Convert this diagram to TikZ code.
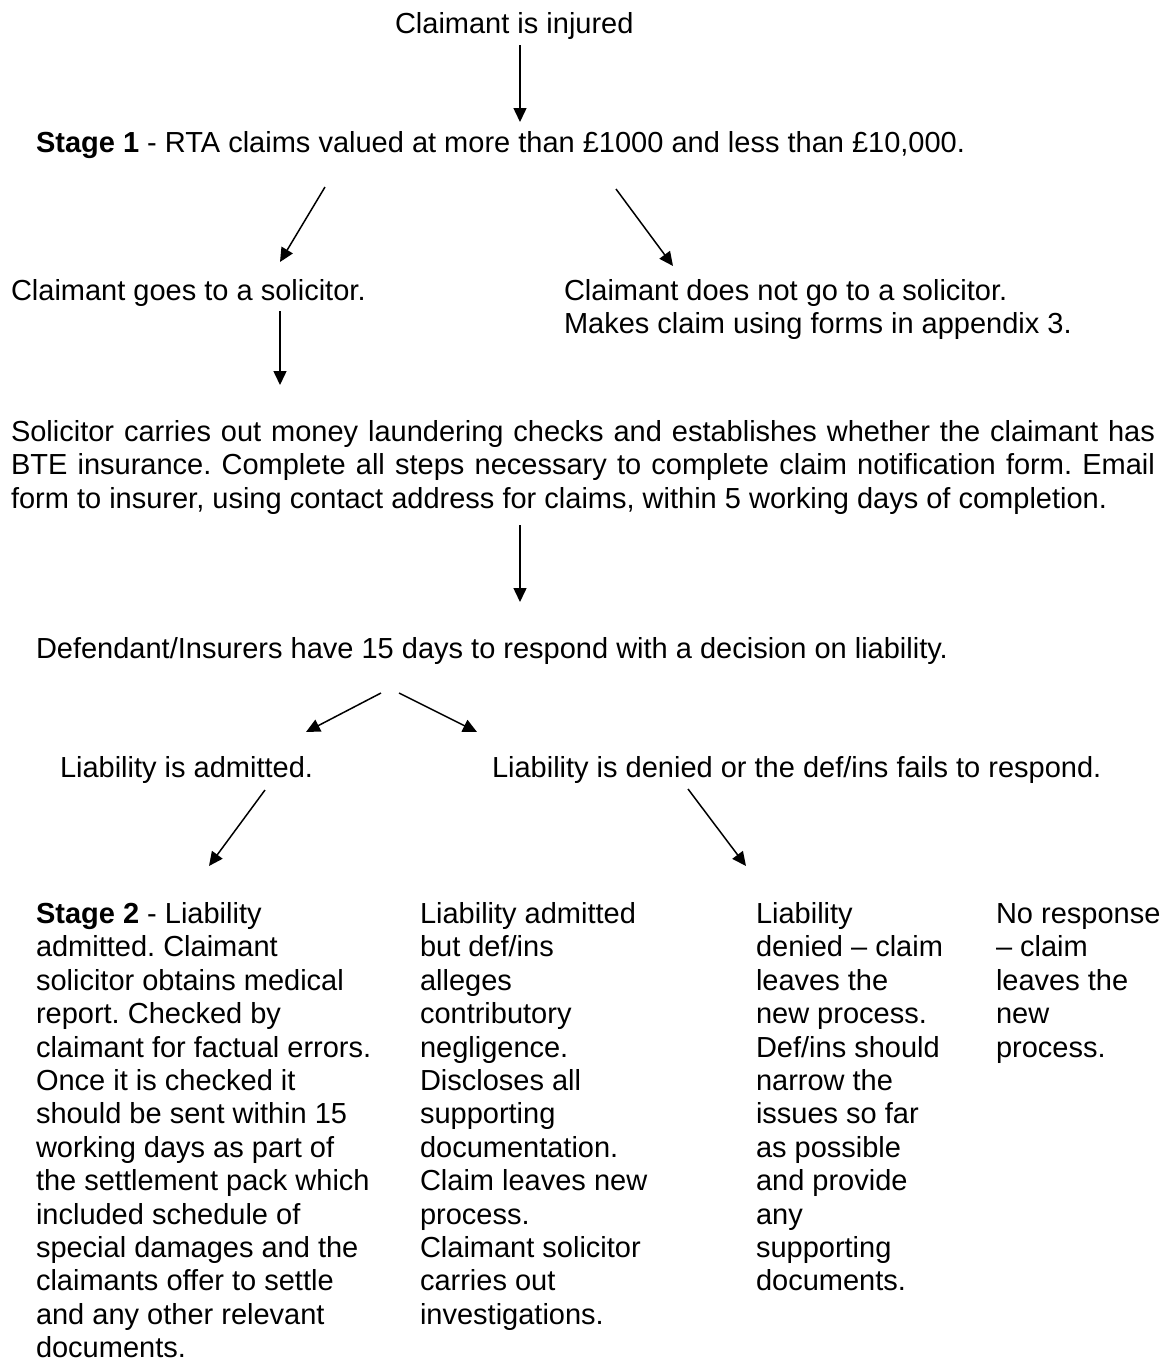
\documentclass[tikz,border=0pt]{standalone}
\usepackage{fontspec}
\setmainfont{Liberation Sans}
\frenchspacing
\usetikzlibrary{arrows.meta}
\newcommand{\jline}[1]{\makebox[1144pt][s]{#1}}
\begin{document}
\begin{tikzpicture}[x=1pt,y=-1pt,
  txt/.style={anchor=base west,inner sep=0pt,outer sep=0pt,align=left,
    font=\fontsize{29}{33.4}\selectfont},
  arr/.style={line width=1.5pt,-{Triangle[length=14pt,width=13pt]}}]
\useasboundingbox (0,0) rectangle (1173,1363);
\fill[white] (0,0) rectangle (1173,1363);

% multi-line nodes: anchor at baseline of LAST line
\node[txt] (inj) at (395,33) {Claimant is injured};
\node[txt] (st1) at (36,152) {\textbf{Stage 1} - RTA claims valued at more than £1000 and less than £10,000.};
\node[txt] (sol) at (11,300) {Claimant goes to a solicitor.};
\node[txt] (nosol) at (564,333.4) {Claimant does not go to a solicitor.\\Makes claim using forms in appendix 3.};
\node[txt] (chk) at (11,508) {\jline{Solicitor carries out money laundering checks and establishes whether the claimant has}\\\jline{BTE insurance. Complete all steps necessary to complete claim notification form. Email}\\form to insurer, using contact address for claims, within 5 working days of completion.};
\node[txt] (def) at (36,658) {Defendant/Insurers have 15 days to respond with a decision on liability.};
\node[txt] (adm) at (60,777) {Liability is admitted.};
\node[txt] (den) at (492,777) {Liability is denied or the def/ins fails to respond.};

\node[txt] (c1) at (36,1357.7) {\textbf{Stage 2} - Liability\\admitted. Claimant\\solicitor obtains medical\\report. Checked by\\claimant for factual errors.\\Once it is checked it\\should be sent within 15\\working days as part of\\the settlement pack which\\included schedule of\\special damages and the\\claimants offer to settle\\and any other relevant\\documents.};
\node[txt] (c2) at (420,1324.3) {Liability admitted\\but def/ins\\alleges\\contributory\\negligence.\\Discloses all\\supporting\\documentation.\\Claim leaves new\\process.\\Claimant solicitor\\carries out\\investigations.};
\node[txt] (c3) at (756,1290.9) {Liability\\denied – claim\\leaves the\\new process.\\Def/ins should\\narrow the\\issues so far\\as possible\\and provide\\any\\supporting\\documents.};
\node[txt] (c4) at (996,1057.1) {No response\\– claim\\leaves the\\new\\process.};

\coordinate (a1s) at (520,45);  \coordinate (a1e) at (520,122);
\coordinate (a2s) at (325,187); \coordinate (a2e) at (280,262);
\coordinate (a3s) at (616,189); \coordinate (a3e) at (673,266);
\coordinate (a4s) at (280,311); \coordinate (a4e) at (280,385);
\coordinate (a5s) at (520,525); \coordinate (a5e) at (520,602);
\coordinate (a6s) at (381,693); \coordinate (a6e) at (306,732);
\coordinate (a7s) at (399,693); \coordinate (a7e) at (477,732);
\coordinate (a8s) at (265,790); \coordinate (a8e) at (209,866);
\coordinate (a9s) at (688,789); \coordinate (a9e) at (746,866);

\foreach \i in {1,...,9} \draw[arr] (a\i s) -- (a\i e);
\end{tikzpicture}
\end{document}
